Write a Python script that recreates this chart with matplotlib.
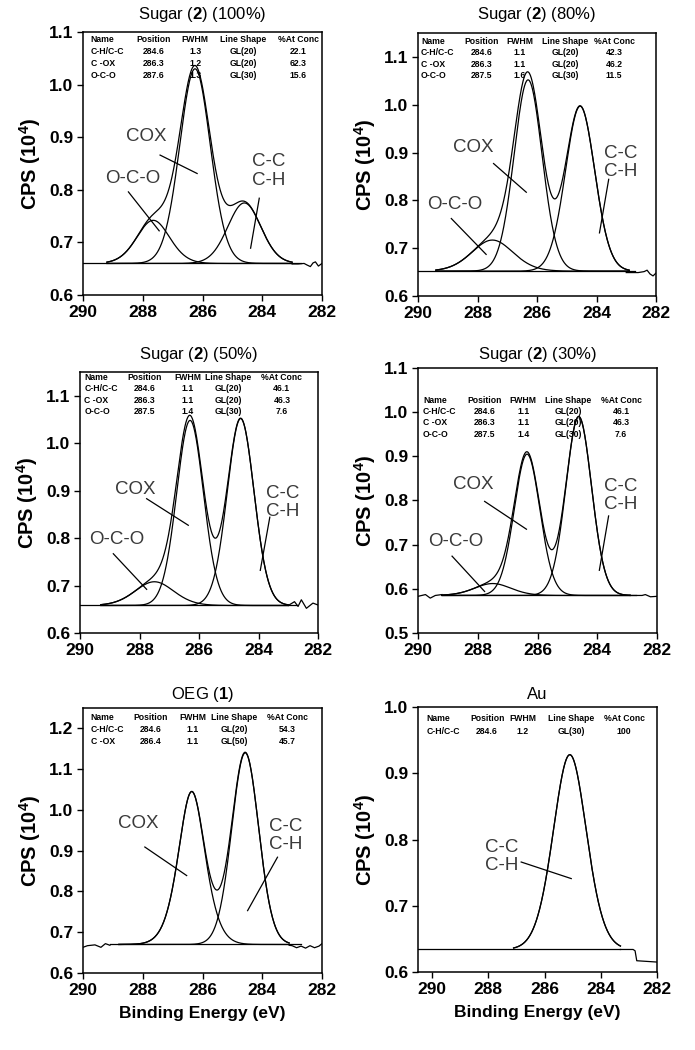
import numpy as np
import matplotlib.pyplot as plt
from matplotlib.ticker import FormatStrFormatter

plt.rcParams['font.family'] = ['Liberation Sans', 'DejaVu Sans']
plt.rcParams['mathtext.fontset'] = 'custom'
plt.rcParams['mathtext.rm'] = 'Liberation Sans'
plt.rcParams['mathtext.bf'] = 'Liberation Sans:bold'

# Panel titles and axis ranges
titles = [r'Sugar ($\mathbf{2}$) (100%)', r'Sugar ($\mathbf{2}$) (80%)',
          r'Sugar ($\mathbf{2}$) (50%)', r'Sugar ($\mathbf{2}$) (30%)',
          r'OEG ($\mathbf{1}$)', 'Au']
ylims = [(0.6, 1.1), (0.6, 1.15), (0.6, 1.15), (0.5, 1.1), (0.6, 1.25), (0.6, 1.0)]
yticks = [[0.6, 0.7, 0.8, 0.9, 1.0, 1.1]] * 3 + [[0.5, 0.6, 0.7, 0.8, 0.9, 1.0, 1.1],
                                                [0.6, 0.7, 0.8, 0.9, 1.0, 1.1, 1.2],
                                                [0.6, 0.7, 0.8, 0.9, 1.0]]
xlefts = [290, 290, 290, 290, 290, 290.5]

# Fitted components: position (eV), width (eV), height above background, GL mix
baselines = [0.660, 0.652, 0.658, 0.585, 0.670, 0.634]
peak_pos = [[284.6, 286.25, 287.65], [284.55, 286.3, 287.5], [284.6, 286.3, 287.5],
            [284.62, 286.35, 287.5], [284.57, 286.36], [285.1]]
peak_fwhm = [[1.35, 1.25, 1.35], [1.2, 1.15, 1.7], [1.1, 1.1, 1.6],
             [1.05, 1.05, 1.5], [1.1, 1.1], [1.45]]
peak_amp = [[0.115, 0.37, 0.082], [0.345, 0.40, 0.065], [0.394, 0.39, 0.05],
            [0.405, 0.32, 0.027], [0.47, 0.375], [0.294]]
peak_mix = [[20, 20, 30], [20, 20, 30], [20, 20, 30], [20, 20, 30], [20, 50], [30]]
fit_range = [(289.2, 283.0), (289.4, 282.9), (289.3, 283.0), (289.2, 282.9),
             (288.8, 283.1), (287.1, 283.3)]

# Raw data visible outside the fit window
tail_left_x = [[], [], [], [290.0, 289.75, 289.59, 289.42, 289.2],
               [290.0, 289.85, 289.6, 289.4, 289.25, 289.1], []]
tail_left_y = [[], [], [], [0.583, 0.587, 0.579, 0.585, 0.587],
               [0.663, 0.667, 0.669, 0.663, 0.672, 0.668], []]
tail_right_x = [[283.0, 282.8, 282.6, 282.5, 282.39, 282.3, 282.22, 282.12, 282.0],
                [283.0, 282.6, 282.4, 282.3, 282.2, 282.1, 282.0],
                [283.0, 282.79, 282.67, 282.56, 282.39, 282.17, 282.0],
                [282.9, 282.5, 282.39, 282.22, 282.0],
                [283.1, 283.0, 282.85, 282.7, 282.55, 282.4, 282.25, 282.1, 282.0],
                [283.3, 282.85, 282.78, 282.72, 282.0]]
tail_right_y = [[0.659, 0.659, 0.66, 0.657, 0.654, 0.661, 0.663, 0.655, 0.66],
                [0.649, 0.649, 0.651, 0.654, 0.646, 0.642, 0.648],
                [0.658, 0.666, 0.656, 0.67, 0.652, 0.663, 0.659],
                [0.585, 0.585, 0.587, 0.582, 0.583],
                [0.668, 0.667, 0.662, 0.666, 0.661, 0.667, 0.662, 0.666, 0.672],
                [0.634, 0.634, 0.632, 0.617, 0.615]]

# Fit tables
tab_header = ['Name', 'Position', 'FWHM', 'Line Shape', '%At Conc']
tables = [
    [['C-H/C-C', '284.6', '1.3', 'GL(20)', '22.1'],
     ['C -OX', '286.3', '1.2', 'GL(20)', '62.3'],
     ['O-C-O', '287.6', '1.3', 'GL(30)', '15.6']],
    [['C-H/C-C', '284.6', '1.1', 'GL(20)', '42.3'],
     ['C -OX', '286.3', '1.1', 'GL(20)', '46.2'],
     ['O-C-O', '287.5', '1.6', 'GL(30)', '11.5']],
    [['C-H/C-C', '284.6', '1.1', 'GL(20)', '46.1'],
     ['C -OX', '286.3', '1.1', 'GL(20)', '46.3'],
     ['O-C-O', '287.5', '1.4', 'GL(30)', '7.6']],
    [['C-H/C-C', '284.6', '1.1', 'GL(20)', '46.1'],
     ['C -OX', '286.3', '1.1', 'GL(20)', '46.3'],
     ['O-C-O', '287.5', '1.4', 'GL(30)', '7.6']],
    [['C-H/C-C', '284.6', '1.1', 'GL(20)', '54.3'],
     ['C -OX', '286.4', '1.1', 'GL(50)', '45.7']],
    [['C-H/C-C', '284.6', '1.2', 'GL(30)', '100']],
]

# Peak labels: text, text centre, leader line start and end (data coords)
labels = [
    [('COX', 287.87, 0.901, 287.42, 0.866, 286.18, 0.831),
     ('O-C-O', 288.34, 0.822, 288.48, 0.796, 287.45, 0.722),
     ('C-C\nC-H', 283.8, 0.836, 284.10, 0.784, 284.39, 0.689)],
    [('COX', 288.13, 0.910, 287.46, 0.877, 286.36, 0.817),
     ('O-C-O', 288.75, 0.791, 288.88, 0.762, 287.71, 0.687),
     ('C-C\nC-H', 283.2, 0.879, 283.59, 0.844, 283.90, 0.732)],
    [('COX', 288.15, 0.902, 287.76, 0.883, 286.36, 0.827),
     ('O-C-O', 288.77, 0.798, 288.88, 0.767, 287.76, 0.692),
     ('C-C\nC-H', 283.2, 0.875, 283.62, 0.844, 283.94, 0.732)],
    [('COX', 288.14, 0.836, 287.77, 0.798, 286.37, 0.735),
     ('O-C-O', 288.75, 0.708, 288.86, 0.674, 287.77, 0.594),
     ('C-C\nC-H', 283.23, 0.811, 283.62, 0.765, 283.93, 0.642)],
    [('COX', 288.15, 0.966, 287.93, 0.909, 286.53, 0.839),
     ('C-C\nC-H', 283.23, 0.938, 283.49, 0.884, 284.49, 0.753)],
    [('C-C\nC-H', 287.53, 0.774, 286.83, 0.766, 285.05, 0.741)],
]

# Layout (pixels in a 695x1050 canvas)
W, H = 695, 1050
boxes = [(83, 32, 322, 295), (418, 33, 656, 296), (80, 372, 318, 633),
         (418, 368, 657, 633), (83, 708, 322, 973), (418, 707, 657, 972)]
col_x = [[0.032, 0.297, 0.469, 0.669, 0.900], [0.013, 0.268, 0.429, 0.618, 0.824],
         [0.018, 0.273, 0.454, 0.622, 0.848], [0.021, 0.277, 0.440, 0.628, 0.850],
         [0.032, 0.283, 0.459, 0.632, 0.854], [0.036, 0.289, 0.437, 0.640, 0.862]]
row_y = [0.970, 0.967, 0.978, 0.879, 0.963, 0.955]
row_dy = [0.045, 0.043, 0.043, 0.043, 0.044, 0.046]
title_pad = [9.5, 10, 9.5, 6.5, 6.5, 6]


def gl(x, pos, fwhm, m, amp):
    d = (x - pos) / fwhm
    return amp * np.exp(-4 * np.log(2) * (1 - m / 100) * d ** 2) / (1 + 4 * m / 100 * d ** 2)


fig = plt.figure(figsize=(W / 100, H / 100), dpi=100)
lw = 0.9
for i in range(6):
    x0, y0, x1, y1 = boxes[i]
    ax = fig.add_axes([x0 / W, 1 - y1 / H, (x1 - x0) / W, (y1 - y0) / H])
    base = baselines[i]

    # background line
    bx_end = tail_right_x[i][0] if i == 5 else min(tail_right_x[i][0], 282.7)
    bx_start = tail_left_x[i][-1] if tail_left_x[i] else xlefts[i]
    ax.plot([bx_start, bx_end], [base, base], color='black', lw=lw)

    # components and envelope
    x = np.linspace(fit_range[i][0], fit_range[i][1], 400)
    total = np.full_like(x, base)
    for p, f, a, m in zip(peak_pos[i], peak_fwhm[i], peak_amp[i], peak_mix[i]):
        comp = gl(x, p, f, m, a)
        total = total + comp
        ax.plot(x, base + comp, color='black', lw=lw)
    ax.plot(x, total, color='black', lw=lw)

    # raw data tails
    if tail_left_x[i]:
        ax.plot(tail_left_x[i], tail_left_y[i], color='black', lw=lw)
    ax.plot(tail_right_x[i], tail_right_y[i], color='black', lw=lw)

    # peak labels
    for txt, tx, ty, lx0, ly0, lx1, ly1 in labels[i]:
        ax.text(tx, ty, txt, ha='center', va='center', fontsize=13.5,
                color='#3a3a3a', linespacing=1.1)
        ax.plot([lx0, lx1], [ly0, ly1], color='black', lw=lw)

    # fit table
    rows = [tab_header] + tables[i]
    for r, row in enumerate(rows):
        for c, cell in enumerate(row):
            ax.text(col_x[i][c], row_y[i] - r * row_dy[i], cell, transform=ax.transAxes,
                    ha='left' if c == 0 else 'center', va='center',
                    fontsize=6.2, fontweight='bold')

    ax.set_xlim(xlefts[i], 282)
    ax.set_ylim(*ylims[i])
    ax.set_xticks([290, 288, 286, 284, 282])
    ax.set_yticks(yticks[i])
    ax.yaxis.set_major_formatter(FormatStrFormatter('%.1f'))
    ax.tick_params(direction='out', length=4, width=1, labelsize=12.5, pad=3)
    for lab in ax.get_xticklabels() + ax.get_yticklabels():
        lab.set_fontweight('bold')
    for s in ax.spines.values():
        s.set_linewidth(1.1)
    ax.set_title(titles[i], fontsize=12, pad=title_pad[i])
    ax.set_ylabel(r'CPS (10$^{\mathbf{4}}$)', fontsize=14.5, fontweight='bold', labelpad=4)
    if i >= 4:
        ax.set_xlabel('Binding Energy (eV)', fontsize=12.5, fontweight='bold', labelpad=6)

fig.savefig('out.png', dpi=100)
